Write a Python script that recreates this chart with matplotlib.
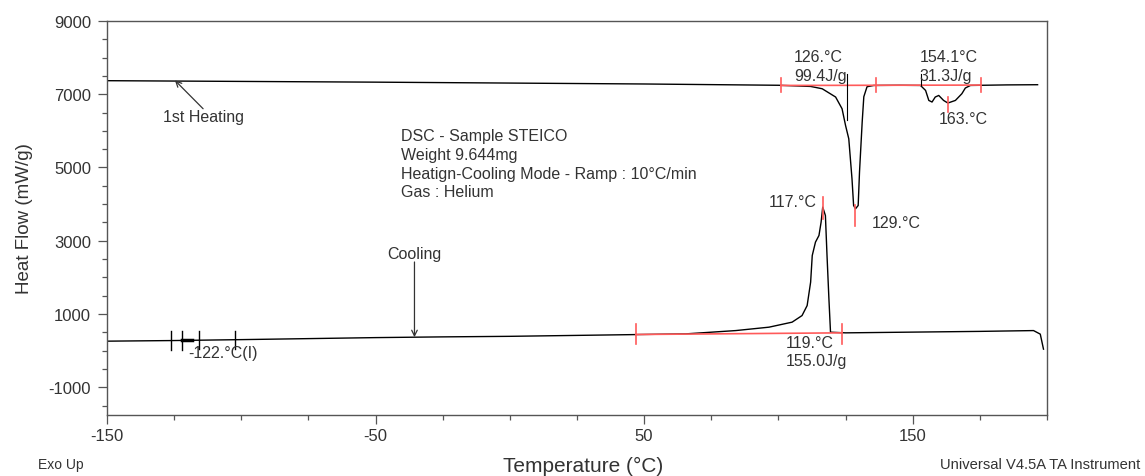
import numpy as np
import matplotlib.pyplot as plt

plt.rcParams['font.family'] = ['Liberation Sans', 'DejaVu Sans']
plt.rcParams['axes.unicode_minus'] = False

# 1st heating curve (T in degC, heat flow in mW/g)
heat_T = [-150, -100, -50, 0, 50, 100, 112.0, 116.3, 121.3, 123.7, 125.0, 126.2,
          127.4, 128.0, 128.7, 129.7, 130.2, 131.2, 131.8, 133.0, 135.5, 145,
          152.9, 154.8, 156.0, 157.2, 158.4, 159.7, 161.5, 163.1, 165.9, 168.3,
          169.6, 171.5, 185, 196.5]
heat_HF = [7370, 7350, 7330, 7305, 7280, 7245, 7213, 7150, 6924, 6604, 6148, 5784,
           4691, 3962, 3872, 3962, 4880, 6249, 6932, 7205, 7240, 7245,
           7240, 7104, 6831, 6787, 6924, 6967, 6831, 6760, 6831, 7014,
           7170, 7240, 7255, 7260]

# cooling curve
cool_T = [-150, -125, -100, -50, -25, 0, 47, 65.5, 84.1, 96.5, 105.1, 108.8, 110.7,
          112.0, 112.6, 113.8, 115.1, 115.9, 116.5, 117.5, 118.1, 118.8, 119.4,
          125, 150, 175, 195, 197.5, 198.7]
cool_HF = [258, 275, 300, 355, 375, 390, 438, 457, 547, 640, 777, 957, 1230,
           1870, 2596, 2962, 3143, 3509, 3918, 3689, 2596, 1422, 503,
           485, 505, 525, 547, 450, 40]

# analysis marks
heat_limits = [100.9, 136.2, 175.3]
heat_base = [7240, 7250]
heat_peaks = [128.7, 163.1]
heat_peak_hf = [3870, 6760]
cool_limits = [46.9, 123.7]
cool_base = [440, 485]
cool_peak = 116.7
cool_peak_hf = 3918
tg_marks = [-126.2, -122.2, -115.7, -102.4]
onset_marks = [125.5, 153.0]

info = ("DSC - Sample STEICO\nWeight 9.644mg\n"
        "Heatign-Cooling Mode - Ramp : 10°C/min\nGas : Helium")

txt = '#333333'
red = '#ff5a5a'

fig = plt.figure(figsize=(11.45, 4.77), dpi=100)
ax = fig.add_axes([0.0934, 0.1285, 0.821, 0.8254])

ax.plot(heat_T, heat_HF, color='black', lw=1)
ax.plot(cool_T, cool_HF, color='black', lw=1)

# integration baselines and limits
ax.plot([heat_limits[0], heat_limits[-1]], heat_base, color=red, lw=1.2)
for t in heat_limits:
    ax.plot([t, t], [7050, 7430], color=red, lw=1.2)
ax.plot([heat_peaks[0]] * 2, [heat_peak_hf[0] + 100, heat_peak_hf[0] - 480], color=red, lw=1.2)
ax.plot([heat_peaks[1]] * 2, [heat_peak_hf[1] + 170, heat_peak_hf[1] - 240], color=red, lw=1.2)
ax.plot(cool_limits, cool_base, color=red, lw=1.2)
for t in cool_limits:
    ax.plot([t, t], [180, 730], color=red, lw=1.2)
ax.plot([cool_peak] * 2, [cool_peak_hf + 280, cool_peak_hf - 320], color=red, lw=1.2)

# onset / glass transition markers
ax.plot([onset_marks[0]] * 2, [7560, 6300], color='black', lw=0.8)
ax.plot([onset_marks[1]] * 2, [7560, 7240], color='black', lw=0.8)
for t in tg_marks:
    hf = np.interp(t, cool_T, cool_HF)
    ax.plot([t, t], [hf - 250, hf + 250], color='black', lw=1)
ax.plot([tg_marks[1], -118.5], [np.interp(-121, cool_T, cool_HF)] * 2, color='black', lw=2.5)

fs = 11.5
ax.text(105.8, 8025, "126.°C", fontsize=fs, color=txt, va='center')
ax.text(105.8, 7505, "99.4J/g", fontsize=fs, color=txt, va='center')
ax.text(152.6, 8025, "154.1°C", fontsize=fs, color=txt, va='center')
ax.text(152.6, 7505, "31.3J/g", fontsize=fs, color=txt, va='center')
ax.text(159.7, 6330, "163.°C", fontsize=fs, color=txt, va='center')
ax.text(134.8, 3490, "129.°C", fontsize=fs, color=txt, va='center')
ax.text(114.3, 4063, "117.°C", fontsize=fs, color=txt, va='center', ha='right')
ax.text(102.6, 210, "119.°C", fontsize=fs, color=txt, va='center')
ax.text(102.6, -280, "155.0J/g", fontsize=fs, color=txt, va='center')
ax.text(-119.9, -40, "-122.°C(I)", fontsize=fs, color=txt, va='center')
ax.text(-40.5, 5100, info, fontsize=11.5, color=txt, va='center', linespacing=1.3)

ax.text(-113.9, 6385, "1st Heating", fontsize=fs, color=txt, ha='center', va='center')
ax.annotate("", xy=(-124.7, 7380), xytext=(-114.2, 6604),
            arrowprops=dict(arrowstyle='->', color='#333333', lw=0.9,
                            shrinkA=0, shrinkB=0))
ax.text(-35.5, 2640, "Cooling", fontsize=fs, color=txt, ha='center', va='center')
ax.annotate("", xy=(-35.5, 367), xytext=(-35.5, 2420),
            arrowprops=dict(arrowstyle='->', color='#333333', lw=0.9,
                            shrinkA=0, shrinkB=0))

ax.set_xlim(-150, 200)
ax.set_ylim(-1750, 9000)
ax.set_xticks([-150, -50, 50, 150])
ax.set_xticks(np.arange(-150, 201, 25), minor=True)
ax.set_yticks([9000, 7000, 5000, 3000, 1000, -1000])
ax.set_yticks(np.arange(-1500, 9001, 500), minor=True)
ax.tick_params(which='major', length=6.5, width=0.9, colors='#555555',
               labelcolor=txt, labelsize=12)
ax.tick_params(which='minor', length=3.5, width=0.9, colors='#555555')
ax.tick_params(axis='x', which='major', pad=3)
ax.tick_params(axis='y', which='major', pad=5)
for s in ax.spines.values():
    s.set_color('#555555')
    s.set_linewidth(1)

ax.set_ylabel("Heat Flow (mW/g)", fontsize=13.5, color=txt, labelpad=11)
fig.text(0.509, 0.023, "Temperature (°C)", fontsize=15, color=txt, ha='center', va='center')
fig.text(0.033, 0.025, "Exo Up", fontsize=10, color=txt, va='center')
fig.text(0.996, 0.025, "Universal V4.5A TA Instrument", fontsize=10.6, color=txt,
         va='center', ha='right')

fig.savefig("out.png", dpi=100)
